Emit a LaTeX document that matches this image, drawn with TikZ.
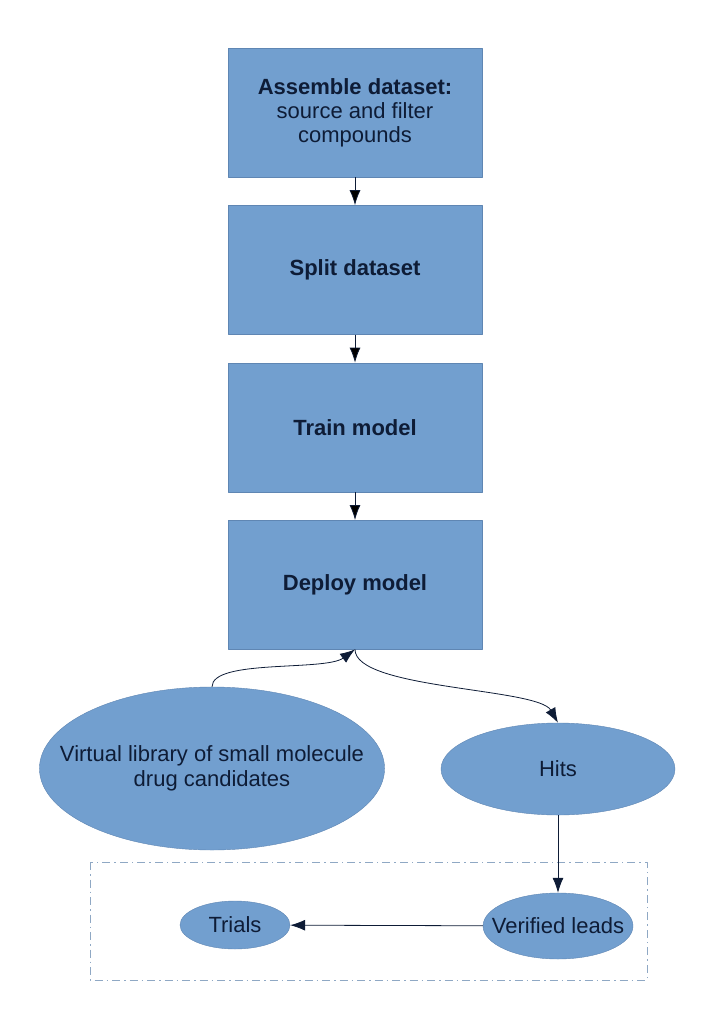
\documentclass[tikz,border=0pt]{standalone}
\usepackage{fontspec}
\setmainfont{Liberation Sans}
\usetikzlibrary{arrows.meta, shapes.geometric, positioning}
\definecolor{boxfill}{HTML}{729FCF}
\definecolor{boxline}{HTML}{5F86B3}
\definecolor{ink}{HTML}{0E1C36}
\definecolor{frame}{HTML}{8FA8C4}

\begin{document}
\begin{tikzpicture}[x=1pt, y=-1pt, >={Latex[length=15pt,width=11pt]}, line join=bevel,
    stage/.style={draw=boxline, fill=boxfill, minimum width=254pt, minimum height=129pt,
      align=center, text=ink, font=\fontsize{22}{24}\selectfont, inner sep=0pt},
    blob/.style={ellipse, draw=boxline, fill=boxfill, text=ink, align=center,
      font=\fontsize{22}{25}\selectfont, inner xsep=-30pt, inner ysep=0pt},
    link/.style={->, draw=ink, thick},
    node distance=28pt]
             \useasboundingbox (0,0) rectangle (725,1024);
             %
             \node[stage] at (355,112.5) (assemble) {\textbf{Assemble dataset:}\\source and filter\\compounds};
             \node[stage, below=of assemble] (split) {\textbf{Split dataset}};
             \node[stage, below=of split] (train) {\textbf{Train model}};
             \node[stage, below=of train] (deploy) {\textbf{Deploy model}};
             %
             \node[blob, minimum width=340pt, minimum height=163pt] at (212,768.5) (library) {Virtual library of small molecule\\drug candidates};
             \node[blob, minimum width=234pt, minimum height=92pt] at (558,769) (hits) {Hits};
             %
             \draw[frame, dash pattern=on 8pt off 4pt on 1.5pt off 4pt] (90,862) rectangle (647,980);
             \node[blob, minimum width=110pt, minimum height=48pt] at (235,925) (trials) {Trials};
             \node[blob, minimum width=150pt, minimum height=66pt] at (558,926) (leads) {Verified leads};
             %
             \path[link] (assemble) edge[] (split);
             \path[link] (split) edge[] (train);
             \path[link] (train) edge[] (deploy);
             \draw[link] (library.north) .. controls +(0,-28) and +(-30,22) .. (deploy.south);
             \draw[link] (deploy.south) .. controls +(0,40) and +(-20,-35) .. (hits.north);
             \draw[link] (hits.south) -- (leads.north);
             \draw[link] (leads) -- (trials);
\end{tikzpicture}
\end{document}
